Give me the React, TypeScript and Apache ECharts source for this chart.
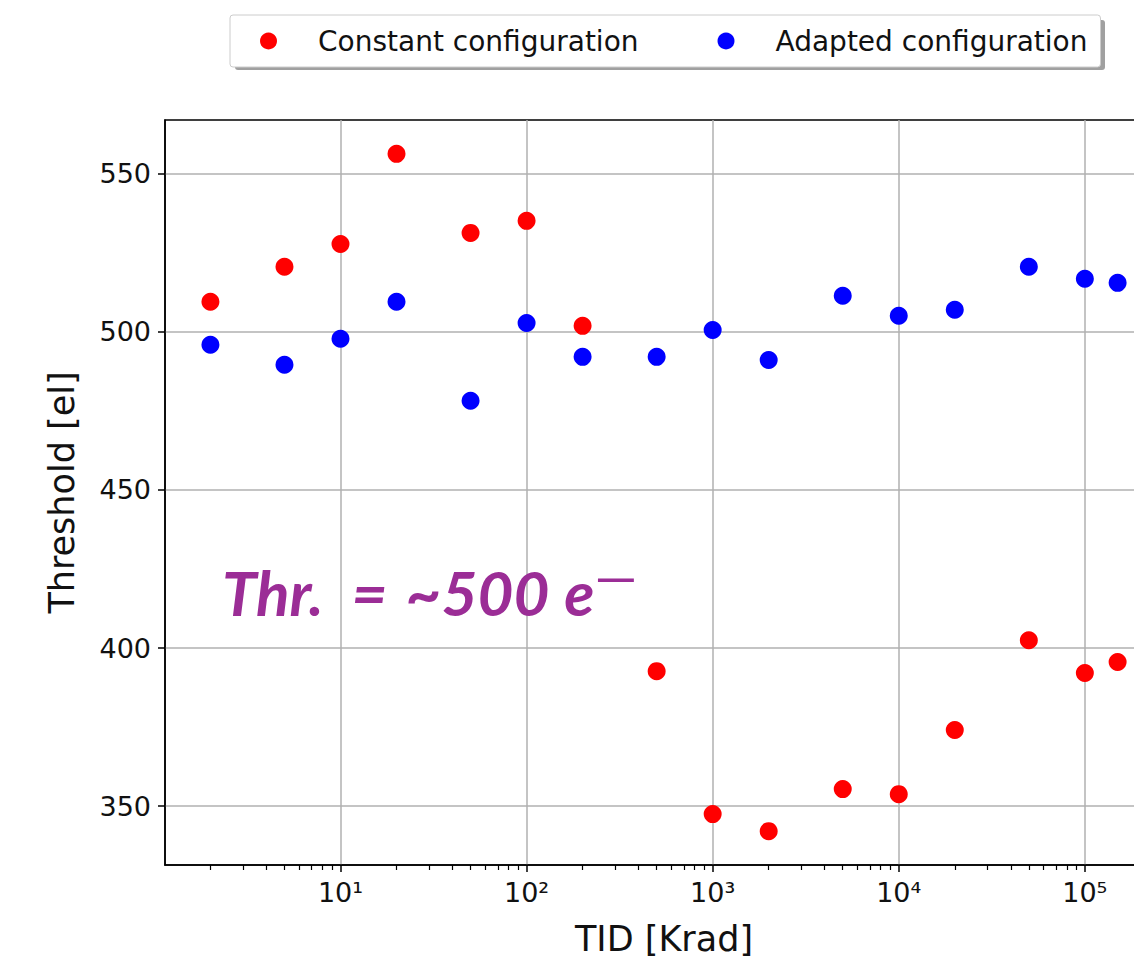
import React, { useEffect, useRef } from "react";
import * as echarts from "echarts";

const tid = [2, 5, 10, 20, 50, 100, 200, 500, 1000, 2000, 5000, 10000, 20000, 50000, 100000, 150000];
const constantCfg = [509.5, 520.6, 527.8, 556.3, 531.3, 535.1, 501.9, 392.7, 347.5, 342.1, 355.4, 353.8, 374.1, 402.5, 392.1, 395.6];
const adaptedCfg = [495.9, 489.6, 497.8, 509.5, 478.2, 502.8, 492.1, 492.1, 500.6, 491.1, 511.4, 505.1, 507.0, 520.6, 516.8, 515.5];
const xMajorTicks = [10, 100, 1000, 10000, 100000];
const xMinorTicks = [
  2, 3, 4, 5, 6, 7, 8, 9,
  20, 30, 40, 50, 60, 70, 80, 90,
  200, 300, 400, 500, 600, 700, 800, 900,
  2000, 3000, 4000, 5000, 6000, 7000, 8000, 9000,
  20000, 30000, 40000, 50000, 60000, 70000, 80000, 90000,
  200000,
];
const yTicks = [350, 400, 450, 500, 550];
const seriesNames = ["Constant configuration", "Adapted configuration"];

const sup: Record<string, string> = { "0": "⁰", "1": "¹", "2": "²", "3": "³", "4": "⁴", "5": "⁵", "6": "⁶" };

export default function App() {
  const ref = useRef<HTMLDivElement>(null);
  useEffect(() => {
    if (!ref.current) return;
    const chart = echarts.init(ref.current, null, { renderer: "svg" });
    const font = "DejaVu Sans";
    const purple = "#9b2d96";
    const annot = { fontFamily: "Lato", fontSize: 62, fontStyle: "italic", fontWeight: "bold", fill: purple };
    chart.setOption({
      animation: false,
      backgroundColor: "#ffffff",
      textStyle: { fontFamily: font },
      grid: {
        left: 165,
        top: 120,
        width: 998,
        height: 745,
        show: true,
        borderColor: "#000",
        borderWidth: 1.5,
        backgroundColor: "transparent",
      },
      legend: {
        left: 230,
        top: 15,
        orient: "horizontal",
        icon: "circle",
        itemWidth: 17,
        itemHeight: 17,
        itemGap: 79,
        padding: [12, 13, 12, 30],
        backgroundColor: "#fff",
        borderColor: "#cccccc",
        borderWidth: 1,
        borderRadius: 3,
        z: 10,
        data: seriesNames,
        formatter: (n: string) => "{a|" + n + "}",
        textStyle: {
          fontFamily: font,
          fontSize: 28,
          color: "#111",
          rich: { a: { fontFamily: font, fontSize: 28, color: "#111", padding: [0, 0, 0, 36] } },
        },
      },
      xAxis: [
        {
          type: "log",
          logBase: 10,
          min: 1.14,
          max: 263000,
          position: "bottom",
          axisLine: { show: true, lineStyle: { color: "#000", width: 1.5 } },
          axisTick: { show: true, length: 7, customValues: xMajorTicks, lineStyle: { color: "#000", width: 1.5 } },
          axisLabel: {
            customValues: xMajorTicks,
            margin: 14,
            fontFamily: font,
            fontSize: 27,
            color: "#111",
            formatter: (v: number) => {
              const e = String(Math.round(Math.log10(v)));
              return "10" + e.split("").map((c) => sup[c] || c).join("");
            },
          },
          splitLine: { show: true, lineStyle: { color: "#b0b0b0", width: 1.5 } },
          name: "TID [Krad]",
          nameLocation: "middle",
          nameGap: 56,
          nameTextStyle: { fontFamily: font, fontSize: 35, color: "#111" },
        },
        {
          type: "log",
          logBase: 10,
          min: 1.14,
          max: 263000,
          position: "bottom",
          axisLine: { show: false },
          axisTick: { show: true, length: 5, customValues: xMinorTicks, lineStyle: { color: "#000", width: 1.2 } },
          axisLabel: { show: false },
          splitLine: { show: false },
        },
      ],
      yAxis: {
        type: "value",
        min: 331.4,
        max: 567,
        axisLine: { show: true, lineStyle: { color: "#000", width: 1.5 } },
        axisTick: { show: true, length: 7, customValues: yTicks, lineStyle: { color: "#000", width: 1.5 } },
        axisLabel: { customValues: yTicks, margin: 14, fontFamily: font, fontSize: 27, color: "#111" },
        splitLine: { show: true, lineStyle: { color: "#b0b0b0", width: 1.5 } },
        name: "Threshold [el]",
        nameLocation: "middle",
        nameGap: 86,
        nameTextStyle: { fontFamily: font, fontSize: 35, color: "#111" },
      },
      graphic: [
        {
          type: "rect",
          z: 1,
          shape: { x: 235, y: 20, width: 870, height: 50, r: 3 },
          style: { fill: "#a0a0a0" },
        },
        {
          type: "text",
          z: 20,
          left: 222,
          top: 548,
          style: {
            text: "{a|Thr.}{b|=}{c|~500}{d|e}{f|—}",
            rich: {
              a: annot,
              b: { ...annot, padding: [0, 0, 0, 28] },
              c: { ...annot, padding: [0, 0, 0, 18] },
              d: { ...annot, padding: [0, 0, 0, 15] },
              f: { fontFamily: "Lato", fontSize: 54, fontWeight: "normal", fill: purple, padding: [0, 0, 34, 0] },
            },
          },
        },
      ],
      series: [
        {
          name: seriesNames[0],
          type: "scatter",
          symbolSize: 18,
          itemStyle: { color: "#ff0000", opacity: 1 },
          data: tid.map((t, i) => [t, constantCfg[i]]),
        },
        {
          name: seriesNames[1],
          type: "scatter",
          symbolSize: 18,
          itemStyle: { color: "#0000ff", opacity: 1 },
          data: tid.map((t, i) => [t, adaptedCfg[i]]),
        },
      ],
    });
    return () => chart.dispose();
  }, []);
  return (
    <div style={{ position: "fixed", left: 0, top: 0, width: 1134, height: 962, overflow: "hidden", background: "#fff" }}>
      <div ref={ref} style={{ width: 1200, height: 962 }} />
    </div>
  );
}
